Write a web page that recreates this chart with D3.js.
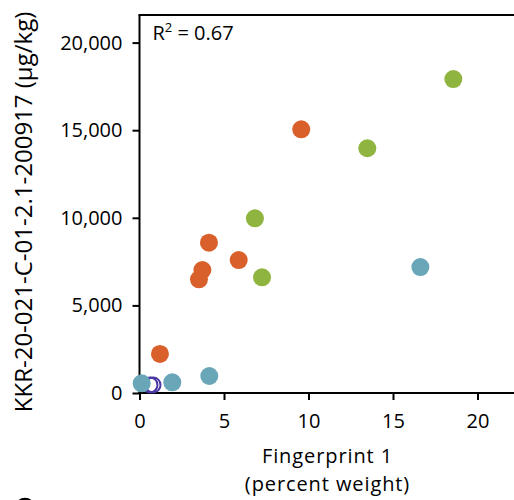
<!DOCTYPE html>
<html>
<head>
<meta charset="utf-8">
<script src="https://cdn.jsdelivr.net/npm/d3@7"></script>
<style>
  body { margin: 0; background: #fff; }
  svg { display: block; font-family: "Open Sans", "Noto Sans", sans-serif; }
</style>
</head>
<body>
<div id="chart"></div>
<script>
// values
const orangeX = [1.21, 3.52, 3.72, 4.11, 5.87, 9.57];
const orangeY = [2230, 6490, 7020, 8580, 7590, 15050];
const greenX = [6.83, 7.25, 13.48, 18.57];
const greenY = [9970, 6600, 13970, 17920];
const blueX = [0.13, 1.94, 4.13, 16.62];
const blueY = [550, 610, 970, 7190];
const purpleX = [0.62, 0.8];
const purpleY = [460, 460];
const xTicks = [0, 5, 10, 15, 20];
const yTicks = [0, 5000, 10000, 15000, 20000];

const width = 514;
const height = 500;
const margin = { top: 15, bottom: 107, left: 139.5 };
const yMax = 21575;
const xMax = 22.3;

const svg = d3.select("#chart").append("svg")
  .attr("width", width)
  .attr("height", height);

const x = d3.scaleLinear()
  .domain([0, xMax])
  .range([margin.left, margin.left + xMax * 16.9]);

const y = d3.scaleLinear()
  .domain([0, yMax])
  .range([height - margin.bottom, margin.top]);

// top spine
svg.append("line")
  .attr("x1", x(0) - 1).attr("x2", width)
  .attr("y1", y(yMax)).attr("y2", y(yMax))
  .attr("stroke", "#000").attr("stroke-width", 2);

const xAxis = svg.append("g")
  .attr("transform", `translate(0,${y(0)})`)
  .call(d3.axisBottom(x).tickValues(xTicks).tickSize(7).tickPadding(14).tickSizeOuter(0));

const yAxis = svg.append("g")
  .attr("transform", `translate(${x(0)},0)`)
  .call(d3.axisLeft(y).tickValues(yTicks).tickFormat(d3.format(",")).tickSize(7).tickPadding(10).tickSizeOuter(0));

[xAxis, yAxis].forEach((g) => {
  g.select(".domain").attr("stroke", "#000").attr("stroke-width", 2);
  g.selectAll(".tick line").attr("stroke", "#000").attr("stroke-width", 2);
  g.selectAll(".tick text").attr("fill", "#000").style("font-size", "20px").style("font-family", "'Open Sans', sans-serif");
});
xAxis.select(".domain").attr("d", `M${x(0) - 1},0H${width}`);
yAxis.select(".domain").attr("d", `M0,${y(yMax)}V${y(0) + 1}`);

// points
const purple = purpleX.map((d, i) => [d, purpleY[i]]);
svg.selectAll(".purple").data(purple).enter().append("circle")
  .attr("cx", (d) => x(d[0])).attr("cy", (d) => y(d[1]))
  .attr("r", 7.5)
  .attr("fill", "none")
  .attr("stroke", "#4a37a3")
  .attr("stroke-width", 2);

const groups = [
  { xs: blueX, ys: blueY, color: "#68a6b8" },
  { xs: orangeX, ys: orangeY, color: "#d9602a" },
  { xs: greenX, ys: greenY, color: "#8fb43f" }
];
groups.forEach((s) => {
  svg.append("g").selectAll("circle")
    .data(s.xs.map((d, i) => [d, s.ys[i]]))
    .enter().append("circle")
    .attr("cx", (d) => x(d[0])).attr("cy", (d) => y(d[1]))
    .attr("r", 9)
    .attr("fill", s.color);
});

// R2 label
const r2 = svg.append("text")
  .attr("x", x(0) + 13).attr("y", 40)
  .style("font-size", "20px")
  .attr("fill", "#000");
r2.append("tspan").text("R");
r2.append("tspan").attr("dy", -8).style("font-size", "13px").text("2");
r2.append("tspan").attr("dy", 8).attr("xml:space", "preserve").text(" = 0.67");

// axis titles
svg.append("text")
  .attr("x", 327.5).attr("y", 463)
  .attr("text-anchor", "middle")
  .style("font-size", "20px")
  .style("letter-spacing", "0.9px")
  .text("Fingerprint 1");
svg.append("text")
  .attr("x", 327.5).attr("y", 491)
  .attr("text-anchor", "middle")
  .style("font-size", "20px")
  .style("letter-spacing", "0.9px")
  .text("(percent weight)");

svg.append("text")
  .attr("transform", `translate(32,${(y(0) + y(yMax)) / 2 + 8}) rotate(-90)`)
  .attr("text-anchor", "middle")
  .style("font-size", "24px")
  .text("KKR-20-021-C-01-2.1-200917 (µg/kg)");

// legend marker (cut off at bottom edge)
svg.append("circle")
  .attr("cx", 25).attr("cy", 508)
  .attr("r", 9)
  .attr("fill", "none")
  .attr("stroke", "#000")
  .attr("stroke-width", 2.5);
</script>
</body>
</html>
